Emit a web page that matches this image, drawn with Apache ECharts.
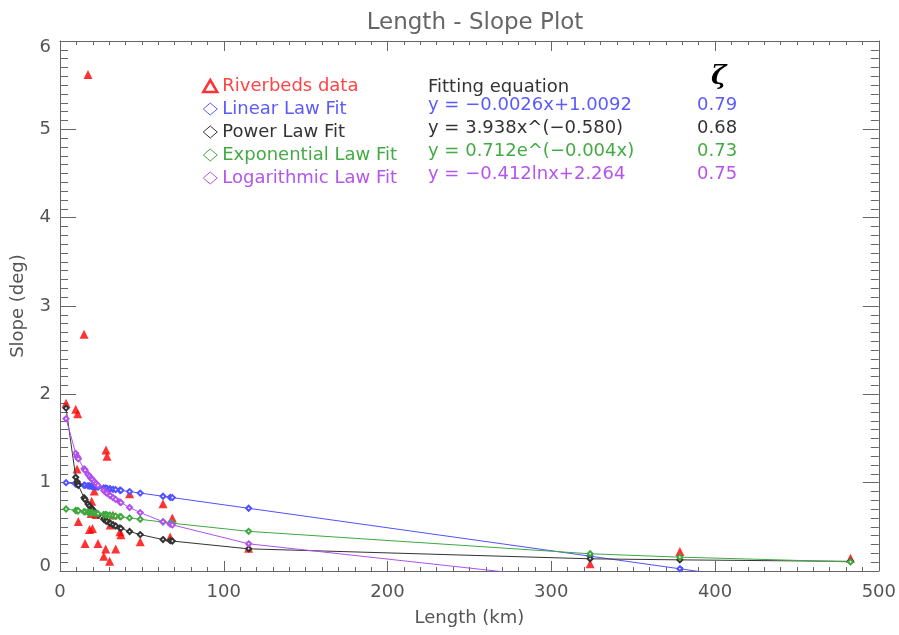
<!DOCTYPE html>
<html>
<head>
<meta charset="utf-8">
<script src="https://cdn.jsdelivr.net/npm/echarts@6/dist/echarts.min.js"></script>
<style>html,body{margin:0;padding:0;background:#fff}#chart{width:899px;height:635px}</style>
</head>
<body>
<div id="chart"></div>
<script>
// Riverbeds data (length km, slope deg)
var riverLength = [3.7, 9.6, 10.8, 14.7, 17.1, 28.1, 28.7, 10.4, 20.9, 42.5, 19.3, 62.9, 19, 22, 32.4, 68.6, 11.2, 30.7, 18, 19.8, 36.6, 37.2, 67.3, 49, 15.3, 23.2, 27.9, 34, 26.7, 30.3, 115.2, 323.7, 378.5, 482.7];
var riverSlope  = [1.90, 1.83, 1.78, 2.68, 5.62, 1.37, 1.30, 1.155, 0.906, 0.875, 0.79, 0.76, 0.65, 0.64, 0.634, 0.60, 0.56, 0.52, 0.47, 0.48, 0.445, 0.41, 0.385, 0.33, 0.31, 0.31, 0.25, 0.25, 0.166, 0.11, 0.257, 0.083, 0.22, 0.144];

// Fitted values at the sorted data lengths
var fitX      = [3.7, 9.6, 10.4, 10.8, 11.2, 14.7, 15.3, 17.1, 18, 19, 19.3, 19.8, 20.9, 22, 23.2, 26.7, 27.9, 28.1, 28.7, 30.3, 30.7, 32.4, 34, 36.6, 37.2, 42.5, 49, 62.9, 67.3, 68.6, 115.2, 323.7, 378.5, 482.7];
var linearFit = [1.000, 0.984, 0.982, 0.981, 0.980, 0.971, 0.969, 0.965, 0.962, 0.960, 0.959, 0.958, 0.955, 0.952, 0.949, 0.940, 0.937, 0.936, 0.935, 0.930, 0.929, 0.925, 0.921, 0.914, 0.913, 0.899, 0.882, 0.846, 0.834, 0.831, 0.710, 0.168, 0.025, -0.246];
var powerFit  = [1.844, 1.061, 1.012, 0.991, 0.970, 0.829, 0.809, 0.759, 0.737, 0.714, 0.707, 0.697, 0.675, 0.656, 0.636, 0.586, 0.571, 0.569, 0.562, 0.545, 0.540, 0.524, 0.509, 0.488, 0.483, 0.447, 0.412, 0.356, 0.343, 0.339, 0.251, 0.138, 0.126, 0.109];
var expFit    = [0.702, 0.685, 0.683, 0.682, 0.681, 0.671, 0.670, 0.665, 0.663, 0.660, 0.659, 0.658, 0.655, 0.652, 0.649, 0.640, 0.637, 0.636, 0.635, 0.631, 0.630, 0.625, 0.621, 0.615, 0.614, 0.601, 0.585, 0.554, 0.544, 0.541, 0.449, 0.195, 0.157, 0.103];
var logFit    = [1.725, 1.332, 1.299, 1.284, 1.269, 1.157, 1.140, 1.094, 1.073, 1.051, 1.044, 1.034, 1.012, 0.991, 0.969, 0.911, 0.893, 0.890, 0.881, 0.859, 0.853, 0.831, 0.811, 0.781, 0.774, 0.719, 0.661, 0.558, 0.530, 0.522, 0.308, -0.117, -0.182, -0.282];

var seriesNames = ['Riverbeds data', 'Linear Law Fit', 'Power Law Fit', 'Exponential Law Fit', 'Logarithmic Law Fit'];
var equations = ['y = \u22120.0026x+1.0092', 'y = 3.938x^(\u22120.580)', 'y = 0.712e^(\u22120.004x)', 'y = \u22120.412lnx+2.264'];
var zetaValues = ['0.79', '0.68', '0.73', '0.75'];

var fitColors = ['#5050ff', '#333333', '#3fa83f', '#b050ee'];
var fitTextColors = ['#5a5aff', '#333333', '#44aa44', '#b455ee'];
var axisGray = '#555555';
var FONT = '"DejaVu Sans", sans-serif';

function pairs(xs, ys) { return xs.map(function (x, i) { return [x, ys[i]]; }); }

var fits = [linearFit, powerFit, expFit, logFit];

var series = [{
  name: seriesNames[0],
  type: 'scatter',
  symbol: 'triangle',
  symbolSize: 9,
  itemStyle: { color: '#ff0000' },
  data: pairs(riverLength, riverSlope),
  z: 2
}];
fits.forEach(function (f, i) {
  series.push({
    name: seriesNames[i + 1],
    type: 'line',
    data: pairs(fitX, f),
    symbol: 'emptyDiamond',
    symbolSize: 5,
    showSymbol: true,
    clip: true,
    lineStyle: { color: fitColors[i], width: 1 },
    itemStyle: { color: fitColors[i], borderWidth: 1 },
    z: 3 + i
  });
});

var legendData = [{
  name: seriesNames[0], icon: 'triangle',
  itemStyle: { color: 'rgba(0,0,0,0)', borderColor: '#ff0000', borderWidth: 2.5 },
  textStyle: { color: '#ff4444' }
}];
for (var i = 0; i < 4; i++) {
  legendData.push({
    name: seriesNames[i + 1], icon: 'diamond',
    itemStyle: { color: 'rgba(0,0,0,0)', borderColor: fitTextColors[i], borderWidth: 1 },
    textStyle: { color: fitTextColors[i] }
  });
}

var graphics = [{
  type: 'text', left: 428, top: 78,
  style: { text: 'Fitting equation', fill: '#333', font: '18px ' + FONT }
}, {
  type: 'text', left: 711, top: 64,
  style: { text: '\u03b6', fill: '#000', font: 'italic bold 26px "DejaVu Serif", serif' }
}];
for (var j = 0; j < 4; j++) {
  graphics.push({
    type: 'text', left: 428, top: 96 + j * 23,
    style: { text: equations[j], fill: fitTextColors[j], font: '18px ' + FONT }
  });
  graphics.push({
    type: 'text', left: 697, top: 96 + j * 23,
    style: { text: zetaValues[j], fill: fitTextColors[j], font: '18px ' + FONT }
  });
}

function xAxisCfg(pos, labels) {
  return {
    type: 'value', position: pos, min: 0, max: 500, interval: 100,
    name: labels ? 'Length (km)' : '', nameLocation: 'middle', nameGap: 38,
    nameTextStyle: { color: axisGray, fontSize: 18, fontFamily: FONT },
    axisLine: { show: true, onZero: false, lineStyle: { color: '#666', width: 1 } },
    axisTick: { show: true, inside: true, length: 10, lineStyle: { color: '#666' } },
    minorTick: { show: true, splitNumber: 10, length: 4, lineStyle: { color: '#666' } },
    axisLabel: { show: labels, color: axisGray, fontSize: 18, fontFamily: FONT, margin: 12 },
    splitLine: { show: false }
  };
}
function yAxisCfg(pos, labels) {
  return {
    type: 'value', position: pos, min: 0, max: 6, interval: 1,
    name: labels ? 'Slope (deg)' : '', nameLocation: 'middle', nameGap: 33,
    nameTextStyle: { color: axisGray, fontSize: 18, fontFamily: FONT },
    axisLine: { show: true, onZero: false, lineStyle: { color: '#666', width: 1 } },
    axisTick: { show: true, inside: true, length: 16, lineStyle: { color: '#666' } },
    minorTick: { show: true, splitNumber: 10, length: 8, lineStyle: { color: '#666' } },
    axisLabel: {
      show: labels, color: axisGray, fontSize: 18, fontFamily: FONT, margin: 9,
      formatter: function (v) { return v === 0 ? '{lo|0}' : (v === 6 ? '{hi|6}' : String(v)); },
      rich: {
        lo: { color: axisGray, fontSize: 18, fontFamily: FONT, padding: [0, 0, 10, 0] },
        hi: { color: axisGray, fontSize: 18, fontFamily: FONT, padding: [12, 0, 0, 0] }
      }
    },
    splitLine: { show: false }
  };
}

var chart = echarts.init(document.getElementById('chart'), null, { renderer: 'canvas' });
chart.setOption({
  backgroundColor: '#ffffff',
  animation: false,
  title: {
    text: 'Length - Slope Plot', left: 470, top: 7, textAlign: 'center',
    textStyle: { color: '#666', fontSize: 23, fontWeight: 'normal', fontFamily: FONT }
  },
  grid: { left: 60, right: 20, top: 41, bottom: 64, containLabel: false },
  xAxis: [xAxisCfg('bottom', true), xAxisCfg('top', false)],
  yAxis: [yAxisCfg('left', true), yAxisCfg('right', false)],
  legend: {
    orient: 'vertical', left: 197, top: 72,
    itemWidth: 14, itemHeight: 12, itemGap: 5,
    selectedMode: false,
    textStyle: { fontSize: 18, fontFamily: FONT, lineHeight: 18 },
    data: legendData
  },
  graphic: graphics,
  series: series
});
</script>
</body>
</html>
